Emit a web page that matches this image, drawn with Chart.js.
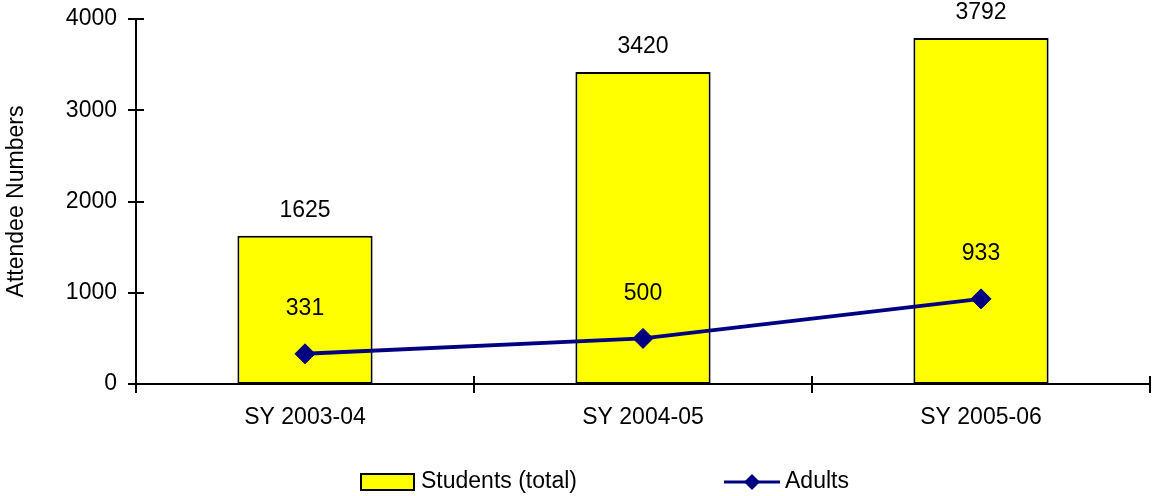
<!DOCTYPE html>
<html>
<head>
<meta charset="utf-8">
<script src="https://cdn.jsdelivr.net/npm/chart.js@4"></script>
<style>
  html, body { margin: 0; padding: 0; background: #ffffff; }
  #wrap { width: 1155px; height: 496px; position: relative; }
</style>
</head>
<body>
<div id="wrap"><canvas id="chart" width="1155" height="496"></canvas></div>
<script>
// Attendance per school year
const categories = ['SY 2003-04', 'SY 2004-05', 'SY 2005-06'];
const studentsTotal = [1625, 3420, 3792];
const adults = [331, 500, 933];
const yTickValues = [0, 1000, 2000, 3000, 4000];

const FONT = '"Liberation Sans", Arial, Helvetica, sans-serif';
const FONT_SIZE = 23;
const BAR_FILL = '#FFFF00';
const LINE_COLOR = '#000080';

// Value labels above bars and line points
const valueLabels = {
  id: 'valueLabels',
  afterDatasetsDraw(chart) {
    const ctx = chart.ctx;
    ctx.save();
    ctx.font = FONT_SIZE + 'px ' + FONT;
    ctx.fillStyle = '#000';
    ctx.textAlign = 'center';
    ctx.textBaseline = 'middle';
    chart.data.datasets.forEach((ds, di) => {
      const meta = chart.getDatasetMeta(di);
      const offset = ds.type === 'bar' ? 25 : 45;
      meta.data.forEach((el, i) => {
        ctx.fillText(String(ds.data[i]), el.x, el.y - offset);
      });
    });
    ctx.restore();
  }
};

// Tick marks crossing both axes
const crossTicks = {
  id: 'crossTicks',
  afterDraw(chart) {
    const ctx = chart.ctx;
    const x = chart.scales.x, y = chart.scales.y;
    const ca = chart.chartArea;
    ctx.save();
    ctx.strokeStyle = '#000';
    ctx.lineWidth = 2;
    ctx.beginPath();
    yTickValues.forEach(v => {
      const py = Math.round(y.getPixelForValue(v));
      ctx.moveTo(ca.left - 8, py);
      ctx.lineTo(ca.left + 8, py);
    });
    for (let i = 0; i <= categories.length; i++) {
      const px = Math.round(x.getPixelForValue(i - 0.5));
      ctx.moveTo(px, ca.bottom - 8);
      ctx.lineTo(px, ca.bottom + 9);
    }
    ctx.stroke();
    ctx.restore();
  }
};

// Legend along the bottom
const bottomLegend = {
  id: 'bottomLegend',
  afterDraw(chart) {
    const ctx = chart.ctx;
    const bar = chart.data.datasets.find(d => d.type === 'bar');
    const line = chart.data.datasets.find(d => d.type === 'line');
    const cy = 482;
    ctx.save();
    ctx.font = FONT_SIZE + 'px ' + FONT;
    ctx.textBaseline = 'middle';
    ctx.textAlign = 'left';
    // bar swatch
    ctx.fillStyle = bar.backgroundColor;
    ctx.fillRect(361, 474, 53, 16);
    ctx.strokeStyle = '#000';
    ctx.lineWidth = 2;
    ctx.strokeRect(361, 474, 53, 16);
    ctx.fillStyle = '#000';
    ctx.fillText(bar.label, 421, cy);
    // line swatch
    ctx.strokeStyle = line.borderColor;
    ctx.lineWidth = 3;
    ctx.beginPath();
    ctx.moveTo(724, cy);
    ctx.lineTo(780, cy);
    ctx.stroke();
    ctx.fillStyle = line.borderColor;
    ctx.beginPath();
    ctx.moveTo(752, cy - 8);
    ctx.lineTo(760, cy);
    ctx.lineTo(752, cy + 8);
    ctx.lineTo(744, cy);
    ctx.closePath();
    ctx.fill();
    ctx.fillStyle = '#000';
    ctx.fillText(line.label, 785, cy);
    ctx.restore();
  }
};

new Chart(document.getElementById('chart'), {
  data: {
    labels: categories,
    datasets: [
      {
        type: 'line',
        label: 'Adults',
        data: adults,
        borderColor: LINE_COLOR,
        backgroundColor: LINE_COLOR,
        borderWidth: 4,
        pointStyle: 'rectRot',
        pointRadius: 10,
        pointBorderWidth: 1,
        pointBackgroundColor: LINE_COLOR,
        pointBorderColor: LINE_COLOR,
        tension: 0,
        order: 0
      },
      {
        type: 'bar',
        label: 'Students (total)',
        data: studentsTotal,
        backgroundColor: BAR_FILL,
        borderColor: '#000',
        borderWidth: 2,
        borderSkipped: false,
        barPercentage: 0.4,
        categoryPercentage: 1.0,
        order: 1
      }
    ]
  },
  options: {
    responsive: false,
    animation: false,
    devicePixelRatio: 1,
    layout: { autoPadding: false, padding: { left: 0, right: 5, top: 19, bottom: 0 } },
    plugins: {
      legend: { display: false },
      tooltip: { enabled: false }
    },
    scales: {
      x: {
        type: 'category',
        offset: true,
        grid: { display: false, drawTicks: false },
        border: { display: true, color: '#000', width: 2 },
        ticks: {
          color: '#000',
          font: { family: FONT, size: FONT_SIZE },
          padding: 20,
          maxRotation: 0
        },
        afterFit(scale) {
          scale.height = 112;
          scale.paddingLeft = 0;
          scale.paddingRight = 0;
        }
      },
      y: {
        min: 0,
        max: 4000,
        afterBuildTicks(scale) { scale.ticks = yTickValues.map(v => ({ value: v })); },
        grid: { display: false, drawTicks: false },
        border: { display: true, color: '#000', width: 2 },
        ticks: {
          color: '#000',
          font: { family: FONT, size: FONT_SIZE },
          padding: 19,
          callback: (v) => String(v)
        },
        title: {
          display: true,
          text: 'Attendee Numbers',
          color: '#000',
          font: { family: FONT, size: FONT_SIZE },
          padding: { top: 3, bottom: 0 }
        },
        afterFit(scale) {
          scale.width = 136;
          scale.paddingTop = 0;
          scale.paddingBottom = 0;
        }
      }
    }
  },
  plugins: [valueLabels, crossTicks, bottomLegend]
});
</script>
</body>
</html>
